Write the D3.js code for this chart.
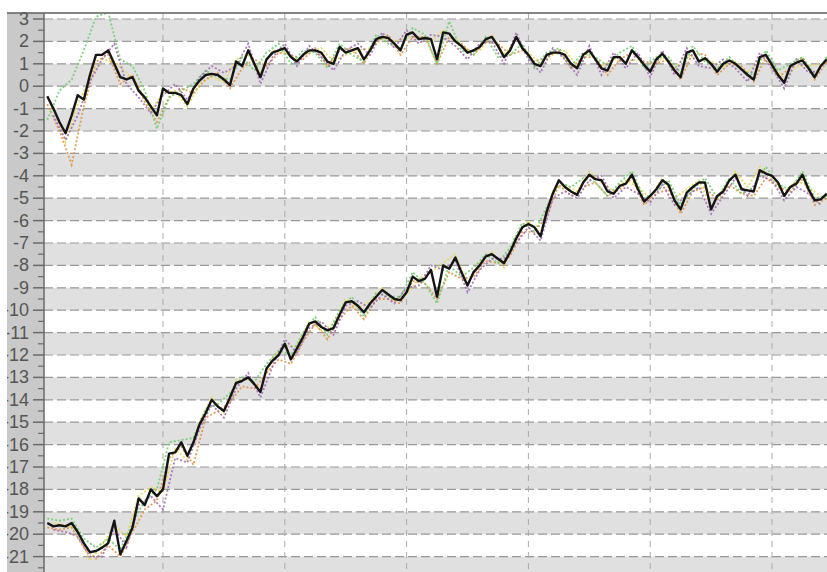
<!DOCTYPE html>
<html>
<head>
<meta charset="utf-8">
<script src="https://cdn.jsdelivr.net/npm/d3@7"></script>
<style>
  body { margin: 0; background: #fff; }
  #chart text { font-family: "Liberation Sans", Arial, sans-serif; }
</style>
</head>
<body>
<div id="chart"></div>
<script>
// y axis ticks (whole units) and the bands
var yTicks = [3, 2, 1, 0, -1, -2, -3, -4, -5, -6, -7, -8, -9, -10, -11, -12, -13, -14, -15, -16, -17, -18, -19, -20, -21, -22];
var xGrid = [20, 40, 60, 80, 100, 120];

// upper group, black line (one value per step 1..129)
var upperBlack = [-0.45,-1.0,-1.6,-2.1,-1.3,-0.4,-0.6,0.5,1.4,1.4,
  1.6,1.0,0.4,0.3,0.4,-0.2,-0.5,-0.9,-1.3,-0.1,
  -0.3,-0.3,-0.4,-0.8,-0.1,0.25,0.5,0.55,0.5,0.3,
  0.05,1.1,0.9,1.6,1.0,0.4,1.2,1.5,1.6,1.7,
  1.3,1.1,1.4,1.6,1.6,1.5,1.1,1.0,1.75,1.5,
  1.6,1.7,1.2,1.6,2.1,2.2,2.15,1.9,1.6,2.3,
  2.4,2.1,2.15,2.1,1.2,2.4,2.35,2.0,1.8,1.5,
  1.6,1.75,2.1,2.2,1.8,1.3,1.6,2.2,1.7,1.4,
  1.0,0.9,1.4,1.5,1.5,1.4,1.0,0.8,1.4,1.6,
  1.2,0.8,0.7,1.3,1.3,1.0,1.6,1.3,0.95,0.65,
  1.2,1.45,1.1,0.7,0.4,1.5,1.6,1.1,1.25,1.0,
  0.65,1.0,1.15,1.0,0.75,0.5,0.3,1.3,1.4,0.95,
  0.5,0.15,0.9,1.05,1.15,0.8,0.4,0.9,1.2];

// lower group, black line
var lowerBlack = [-19.5,-19.65,-19.6,-19.65,-19.5,-19.9,-20.4,-20.8,-20.75,-20.6,
  -20.4,-19.4,-20.9,-20.3,-19.7,-18.4,-18.7,-18.0,-18.3,-18.0,
  -16.4,-16.35,-15.9,-16.5,-15.9,-15.1,-14.6,-14.0,-14.3,-14.5,
  -13.9,-13.25,-13.15,-13.0,-13.3,-13.65,-12.6,-12.25,-12.0,-11.5,
  -12.2,-11.7,-11.2,-10.6,-10.5,-10.75,-10.9,-10.8,-10.2,-9.65,
  -9.6,-9.8,-10.1,-9.7,-9.4,-9.1,-9.3,-9.5,-9.55,-9.2,
  -8.5,-8.7,-8.6,-8.2,-9.4,-8.0,-8.15,-7.65,-8.3,-8.9,
  -8.3,-8.0,-7.6,-7.5,-7.7,-7.9,-7.4,-6.8,-6.3,-6.15,
  -6.3,-6.7,-5.6,-4.8,-4.2,-4.5,-4.7,-4.85,-4.3,-3.95,
  -4.15,-4.2,-4.7,-4.8,-4.45,-4.35,-3.95,-4.6,-5.15,-4.9,
  -4.6,-4.2,-4.4,-5.1,-5.5,-4.75,-4.5,-4.3,-4.3,-5.5,
  -4.9,-4.7,-4.2,-3.95,-4.6,-4.65,-4.7,-3.75,-3.9,-4.0,
  -4.3,-4.9,-4.5,-4.35,-3.95,-4.6,-5.1,-5.05,-4.8];

// dotted series, odd steps (1,3,..,129)
var upperGreen = [-1.5,-0.2,0.3,1.6,3.1,3.3,1.2,0.9,-0.2,-1.9,
  -0.5,-0.2,0.1,0.7,0.4,0.3,1.3,0.7,1.5,1.9,
  1.0,1.6,1.5,0.8,1.9,1.4,1.1,2.3,1.9,1.7,
  2.6,2.3,1.0,2.9,1.6,1.4,2.2,1.3,1.4,1.9,
  0.8,1.5,1.7,0.9,1.5,1.3,0.9,1.5,1.8,0.8,
  1.3,1.3,0.6,1.8,1.1,0.8,1.3,0.7,0.5,1.6,
  0.7,1.0,1.3,0.5,1.3];
var upperOrange = [-0.8,-2.0,-3.5,-0.9,1.1,1.4,0.1,0.5,-0.7,-1.6,
  -0.5,-0.1,-0.3,0.3,0.6,-0.1,0.8,1.2,0.9,1.5,
  1.4,1.2,1.7,0.9,1.6,1.7,1.0,2.0,2.3,1.4,
  2.2,2.2,1.0,2.2,1.9,1.4,2.0,1.9,1.4,1.6,
  1.1,1.3,1.6,0.8,1.3,1.3,0.5,1.2,1.5,1.1,
  1.0,1.2,0.3,1.5,1.4,0.5,1.0,0.9,0.2,1.3,
  0.4,0.8,1.3,0.3,1.1];
// dotted series, even steps (2,4,..,128)
var upperPurple = [-1.3,-2.4,-1.3,0.2,1.2,1.9,0.1,-0.5,-1.2,-0.4,
  0.1,-0.6,0.4,0.9,0.6,0.9,1.9,0.1,1.3,1.9,
  0.9,1.8,1.3,0.7,1.6,1.9,1.4,2.4,1.7,2.5,
  1.9,2.3,2.2,1.8,1.2,1.9,2.0,1.0,2.4,1.2,
  0.6,1.7,1.2,0.5,1.8,0.5,1.5,0.8,1.5,0.4,
  1.6,0.5,1.7,0.9,0.8,1.2,0.8,0.2,1.5,0.8,
  -0.1,1.2,0.6,0.7];
var upperYellow = [-0.9,-2.5,-0.8,0.3,1.2,1.1,0.6,0.0,-1.1,-0.3,
  -0.2,-0.9,0.1,0.4,0.2,1.2,1.4,0.6,1.6,1.5,
  1.2,1.5,1.7,1.1,1.4,1.6,1.7,2.1,2.0,2.2,
  2.2,2.0,2.5,2.1,1.6,1.6,2.3,1.4,2.1,1.5,
  1.0,1.4,1.6,0.9,1.5,0.9,1.2,1.1,1.2,0.7,
  1.3,0.8,1.4,1.2,1.1,0.9,1.1,0.6,1.2,1.0,
  0.3,0.9,0.9,1.0];

var lowerGreen = [-19.3,-19.4,-19.3,-20.2,-20.6,-20.2,-20.7,-19.5,-18.5,-18.0,
  -15.9,-15.8,-15.7,-14.4,-14.2,-13.7,-13.0,-13.2,-12.4,-11.8,
  -12.0,-11.0,-10.3,-11.1,-10.0,-9.4,-10.3,-9.2,-9.4,-9.4,
  -8.3,-8.8,-9.7,-8.0,-8.5,-8.1,-7.5,-7.9,-7.2,-6.1,
  -6.5,-5.4,-4.3,-4.5,-4.1,-4.3,-4.9,-4.3,-3.8,-5.0,
  -4.7,-4.2,-5.3,-4.6,-4.1,-5.0,-4.1,-4.8,-4.5,-3.6,
  -4.4,-4.6,-3.8,-5.0,-4.9];
var lowerOrange = [-19.7,-19.8,-19.7,-20.6,-21.1,-20.5,-21.0,-19.9,-18.9,-18.5,
  -16.6,-16.1,-16.9,-14.8,-14.5,-14.1,-13.4,-13.5,-12.8,-12.2,
  -12.4,-11.4,-10.6,-11.3,-10.4,-9.8,-10.4,-9.5,-9.5,-9.7,
  -8.7,-8.8,-9.5,-8.3,-8.6,-8.5,-7.8,-7.9,-7.6,-6.5,
  -6.5,-5.8,-4.4,-4.9,-4.5,-4.3,-4.9,-4.6,-4.1,-5.3,
  -4.8,-4.6,-5.7,-4.7,-4.5,-5.1,-4.4,-4.8,-4.9,-4.1,
  -4.5,-4.7,-4.1,-5.3,-5.0];
var lowerPurple = [-19.8,-19.9,-20.1,-21.0,-21.0,-19.7,-20.6,-18.7,-18.3,-18.9,
  -16.6,-16.8,-15.3,-14.2,-14.8,-13.5,-12.8,-13.9,-12.5,-11.3,
  -11.9,-10.8,-10.5,-11.1,-9.8,-9.6,-9.9,-9.3,-9.7,-9.0,
  -8.9,-8.0,-8.2,-7.8,-9.2,-8.2,-7.7,-7.7,-7.0,-6.3,
  -6.9,-5.0,-4.7,-5.0,-4.2,-4.0,-5.0,-4.5,-4.8,-5.2,
  -4.4,-5.3,-4.9,-4.5,-5.7,-4.9,-4.1,-4.9,-4.0,-4.2,
  -5.1,-4.5,-4.8,-5.3];
var lowerYellow = [-19.5,-19.6,-19.8,-21.2,-20.5,-19.6,-20.1,-18.3,-17.9,-18.1,
  -16.2,-16.7,-15.0,-13.9,-14.6,-13.1,-13.1,-13.5,-12.1,-11.6,
  -11.6,-10.5,-10.9,-10.6,-9.5,-9.9,-9.6,-9.0,-9.6,-9.3,
  -8.6,-8.3,-7.9,-7.5,-8.8,-7.9,-7.4,-8.1,-6.7,-6.0,
  -6.6,-4.7,-4.4,-4.7,-3.8,-4.3,-4.7,-4.2,-4.5,-5.0,
  -4.1,-5.0,-4.6,-4.2,-5.4,-4.6,-3.8,-4.5,-3.6,-4.1,
  -4.8,-4.2,-4.5,-4.9];

function init() {
    var w = 827;
    var h = 572;
    var left = 44, top = 13;

    var x = d3.scaleLinear().domain([0, 130]).range([41.2, 41.2 + 130 * 6.09]);
    var y = d3.scaleLinear().domain([3, -22]).range([19, 19 + 25 * 22.4]);

    var svg = d3.select("#chart")
        .append("svg")
        .attr("width", w)
        .attr("height", h);

    svg.append("defs").append("clipPath").attr("id", "plot")
        .append("rect")
        .attr("x", left).attr("y", top)
        .attr("width", w - left).attr("height", h - top);

    var g = svg.append("g").attr("clip-path", "url(#plot)");

    // alternating bands: grey between an odd value and the one below it
    g.selectAll("rect.band")
        .data(yTicks.filter(function(d) { return Math.abs(d) % 2 === 1; }))
        .enter()
        .append("rect")
        .attr("class", "band")
        .attr("x", left)
        .attr("y", function(d) { return y(d); })
        .attr("width", w - left)
        .attr("height", function(d) { return y(d - 1) - y(d); })
        .style("fill", "#e0e0e0");

    g.selectAll("line.hgrid")
        .data(yTicks)
        .enter()
        .append("line")
        .attr("x1", left).attr("x2", w)
        .attr("y1", function(d) { return y(d); })
        .attr("y2", function(d) { return y(d); })
        .style("stroke", "#999")
        .style("stroke-width", 1.2)
        .style("stroke-dasharray", "9,4");

    g.selectAll("line.vgrid")
        .data(xGrid)
        .enter()
        .append("line")
        .attr("x1", function(d) { return x(d); })
        .attr("x2", function(d) { return x(d); })
        .attr("y1", top).attr("y2", h)
        .style("stroke", "#ababab")
        .style("stroke-width", 1)
        .style("stroke-dasharray", "6,5");

    var line = d3.line()
        .x(function(d) { return x(d[0]); })
        .y(function(d) { return y(d[1]); });

    function pairs(values, start, step) {
        return values.map(function(v, i) { return [start + i * step, v]; });
    }

    var dotted = [
        { v: upperYellow, s: 2, c: "#e6da52" },
        { v: lowerYellow, s: 2, c: "#e6da52" },
        { v: upperOrange, s: 1, c: "#e09545" },
        { v: lowerOrange, s: 1, c: "#e09545" },
        { v: upperGreen, s: 1, c: "#6fcf6f" },
        { v: lowerGreen, s: 1, c: "#6fcf6f" },
        { v: upperPurple, s: 2, c: "#a46db5" },
        { v: lowerPurple, s: 2, c: "#a46db5" }
    ];

    g.selectAll("path.dotted")
        .data(dotted)
        .enter()
        .append("path")
        .attr("d", function(d) { return line(pairs(d.v, d.s, 2)); })
        .style("fill", "none")
        .style("stroke", function(d) { return d.c; })
        .style("stroke-width", 1.8)
        .style("stroke-dasharray", "2,2")
        .style("opacity", 0.9);

    g.selectAll("path.black")
        .data([upperBlack, lowerBlack])
        .enter()
        .append("path")
        .attr("d", function(d) { return line(pairs(d, 1, 1)); })
        .style("fill", "none")
        .style("stroke", "#151515")
        .style("stroke-width", 2.4)
        .style("stroke-linejoin", "round");

    // axis panel
    svg.append("rect")
        .attr("x", 7).attr("y", top)
        .attr("width", left - 7).attr("height", h - top)
        .style("fill", "#c9c9c9");

    svg.selectAll("text.ylab")
        .data(yTicks)
        .enter()
        .append("text")
        .attr("x", 29)
        .attr("y", function(d) { return y(d) + 6; })
        .attr("text-anchor", "end")
        .style("font-size", "18px")
        .style("fill", "#555")
        .text(function(d) { return d; });

    // labels are cut at the panel edge
    svg.append("rect")
        .attr("x", 0).attr("y", 0)
        .attr("width", 7).attr("height", h)
        .style("fill", "#fff");

    svg.selectAll("line.major")
        .data(yTicks)
        .enter()
        .append("line")
        .attr("x1", 33).attr("x2", left)
        .attr("y1", function(d) { return y(d); })
        .attr("y2", function(d) { return y(d); })
        .style("stroke", "#6a6a6a")
        .style("stroke-width", 1.5);

    svg.selectAll("line.minor")
        .data(yTicks.map(function(d) { return d - 0.5; }))
        .enter()
        .append("line")
        .attr("x1", 38).attr("x2", left)
        .attr("y1", function(d) { return y(d); })
        .attr("y2", function(d) { return y(d); })
        .style("stroke", "#6a6a6a")
        .style("stroke-width", 1.2);

    svg.append("line")
        .attr("x1", left).attr("x2", left)
        .attr("y1", top).attr("y2", h)
        .style("stroke", "#6a6a6a")
        .style("stroke-width", 1.5);

    svg.append("line")
        .attr("x1", 7).attr("x2", w)
        .attr("y1", top).attr("y2", top)
        .style("stroke", "#5e5e5e")
        .style("stroke-width", 1.5);
}

window.onload = init;
</script>
</body>
</html>
